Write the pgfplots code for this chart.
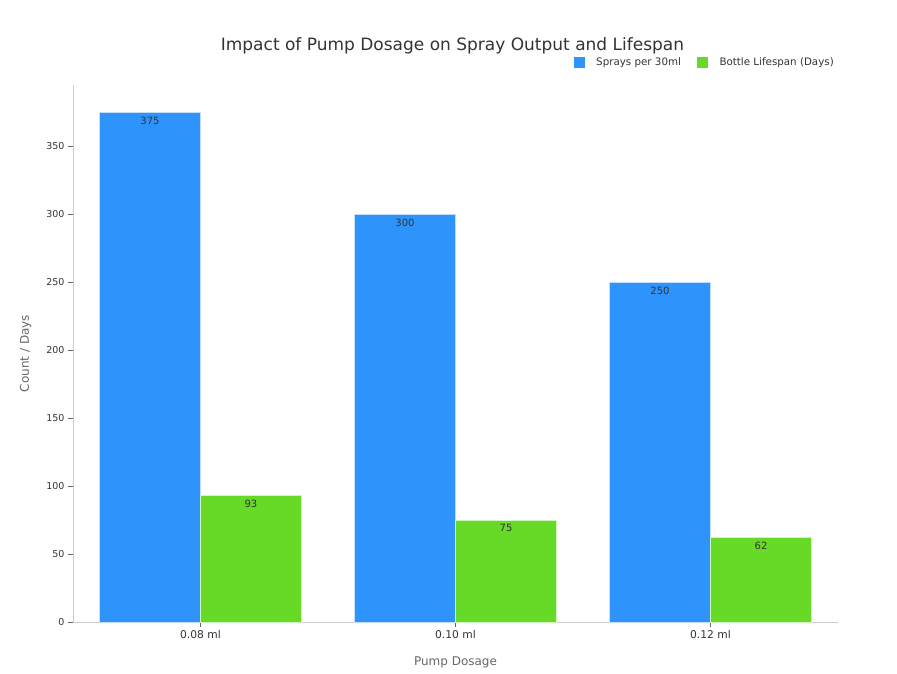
\documentclass[border=0pt]{standalone}
\usepackage{pgfplots}
\pgfplotsset{compat=1.18}
\usepackage{fontspec}
\setmainfont{DejaVu Sans}
\definecolor{cblue}{HTML}{2E93FA}
\definecolor{cgreen}{HTML}{66DA26}
\definecolor{axgray}{HTML}{CCCCCC}
\definecolor{txt}{HTML}{333333}
\definecolor{lab}{HTML}{666666}
\begin{document}
\begin{tikzpicture}[x=1pt,y=1pt]
\path[use as bounding box] (0,0) rectangle (897,674);
\begin{axis}[
  at={(73pt,52pt)}, anchor=south west,
  scale only axis, width=765pt, height=537pt,
  xmin=-0.5, xmax=2.5, ymin=0, ymax=395,
  axis lines=left, axis line style={axgray, -},
  xtick={0,1,2}, xticklabels={0.08 ml,0.10 ml,0.12 ml},
  ytick={0,50,100,150,200,250,300,350},
  tick style={lab, thin},
  major tick length=5pt,
  tick align=outside,
  xticklabel style={font=\fontsize{10.7}{12}\selectfont, text=txt},
  yticklabel style={font=\fontsize{9.5}{12}\selectfont, text=txt},
  /pgf/number format/assume math mode=true,
  xlabel={Pump Dosage}, ylabel={Count / Days},
  label style={font=\fontsize{12}{14}\selectfont, text=lab},
  xlabel style={yshift=-11pt},
  ylabel style={yshift=8pt},
  title={Impact of Pump Dosage on Spray Output and Lifespan},
  title style={font=\fontsize{17}{19}\selectfont, text=txt, at={(0.5,1)}, anchor=south, yshift=21pt, xshift=-3pt},
  legend style={at={(axis description cs:1.0013,1.043)}, anchor=east, draw=none, fill=none, legend columns=2,
    font=\fontsize{10.3}{12}\selectfont, text=txt,
    /tikz/every odd column/.append style={column sep=10pt},
    /tikz/every even column/.append style={column sep=14pt}},
  legend cell align=left,
  ybar, bar width=101pt,
  nodes near coords,
  every node near coord/.append style={anchor=north, font=\fontsize{10}{12}\selectfont, text=txt, yshift=-1pt},
  clip=false,
]
\addplot[fill=cblue, draw=white!70!cblue, line width=0.6pt, bar shift=-50.5pt,
  legend image code/.code={\fill[cblue] (0pt,-5pt) rectangle (10pt,5pt);}] coordinates {(0,375) (1,300) (2,250)};
\addplot[fill=cgreen, draw=white!70!cgreen, line width=0.6pt, bar shift=50.5pt,
  legend image code/.code={\fill[cgreen] (0pt,-5pt) rectangle (10pt,5pt);}] coordinates {(0,93) (1,75) (2,62)};
\legend{Sprays per 30ml, Bottle Lifespan (Days)}
\end{axis}
\end{tikzpicture}
\end{document}
